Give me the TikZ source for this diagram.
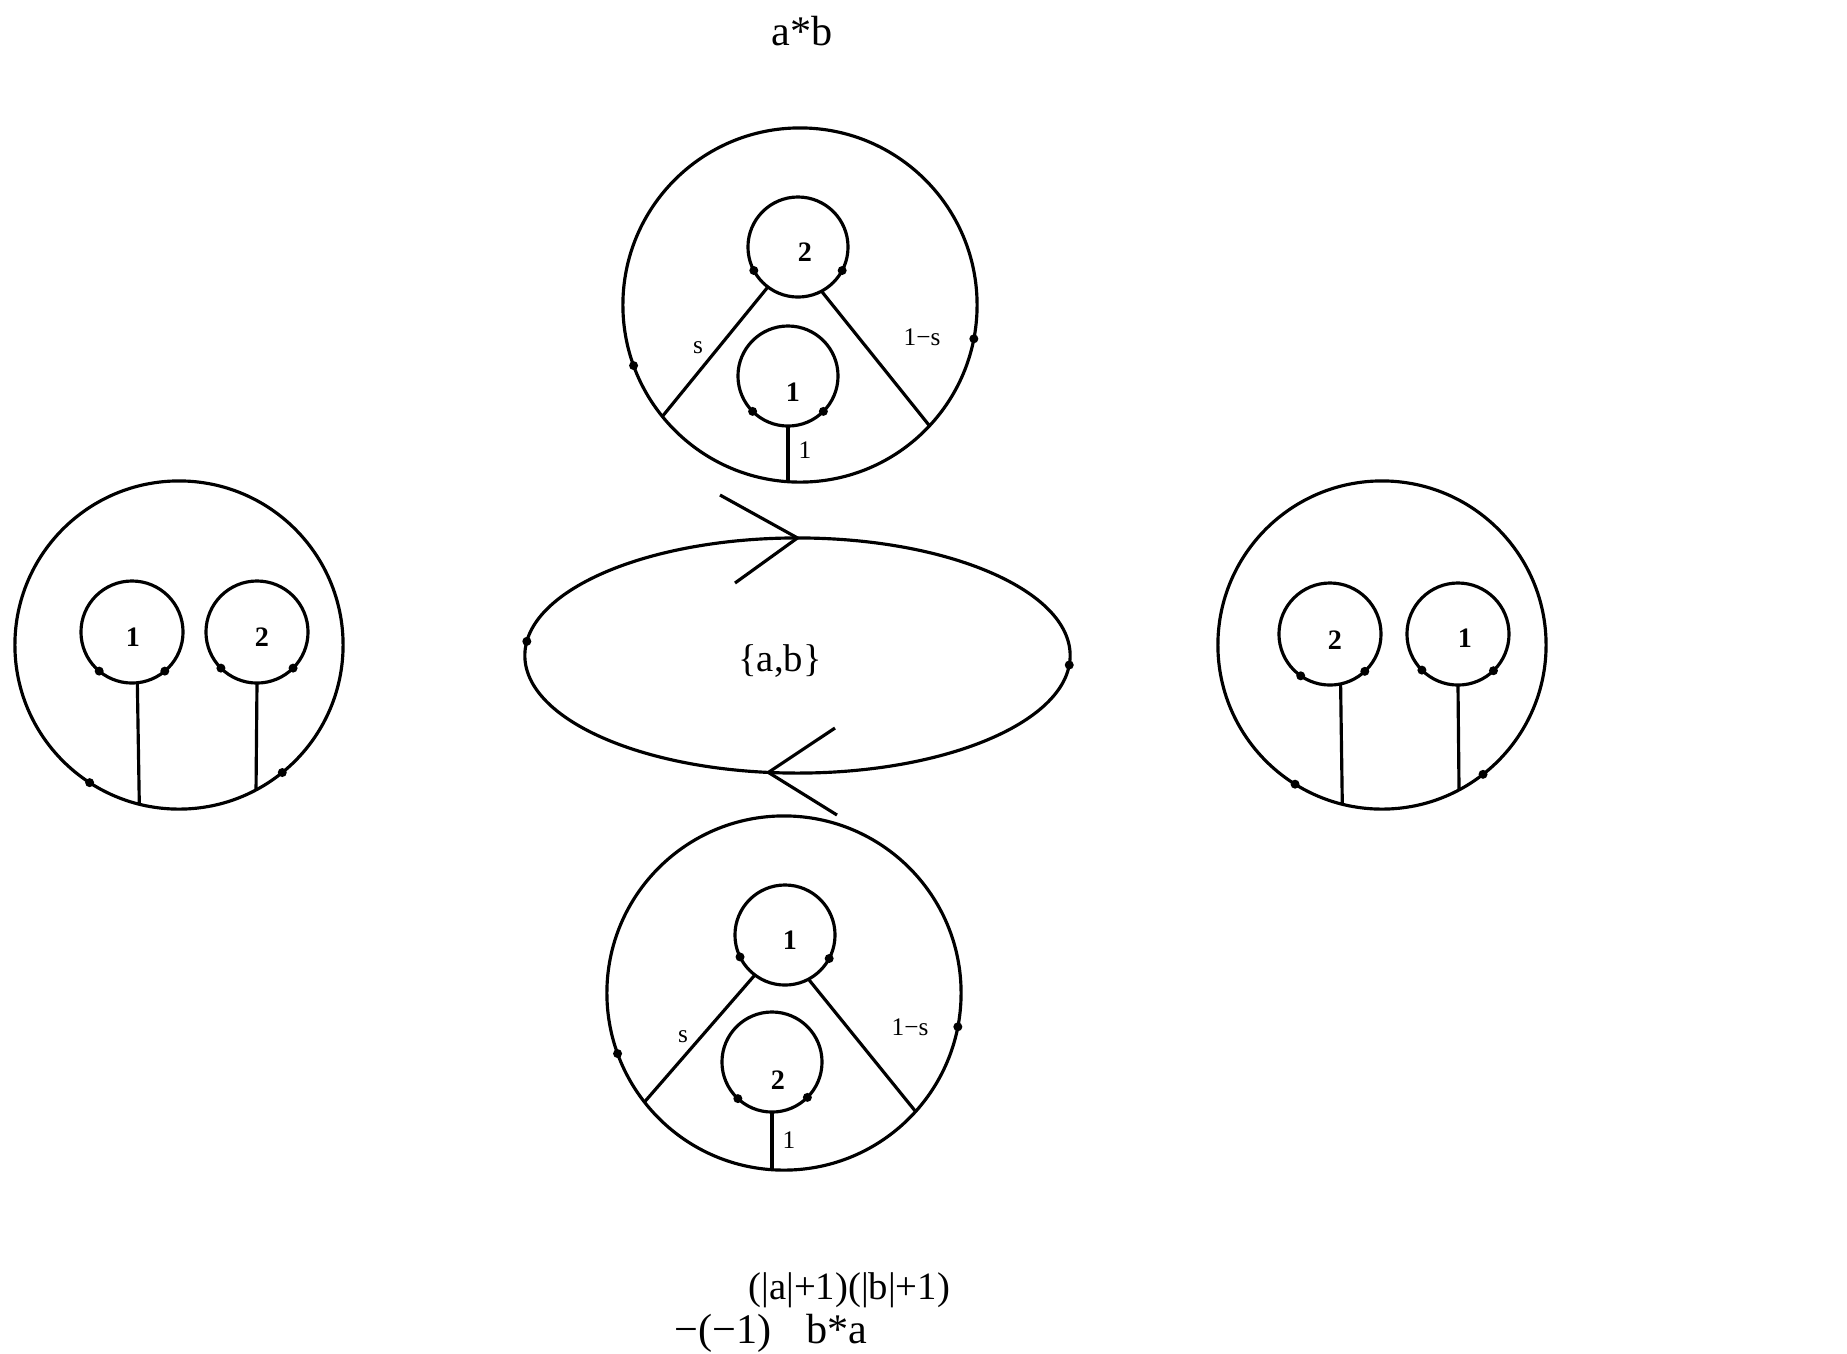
\documentclass[tikz,border=0pt]{standalone}
\usepackage{fontspec}
\setmainfont{Liberation Serif}
\usetikzlibrary{shapes.geometric}
\begin{document}
\begin{tikzpicture}[x=0.01cm,y=-0.01cm,line width=0.9pt,
  bigc/.style={circle,draw,minimum size=3.54cm,inner sep=0pt,outer sep=0pt},
  midc/.style={circle,draw,minimum size=3.28cm,inner sep=0pt,outer sep=0pt},
  smallc/.style={circle,draw,minimum size=1.0cm,inner sep=0pt,outer sep=0pt},
  smallcc/.style={circle,draw,minimum size=1.02cm,inner sep=0pt,outer sep=0pt},
  num/.style={font=\fontsize{8}{9}\selectfont\bfseries,inner sep=0pt},
  tinylab/.style={font=\fontsize{7.2}{8}\selectfont,inner sep=0pt},
  bigtxt/.style={font=\fontsize{12}{14}\selectfont,inner sep=0pt},
  midtxt/.style={font=\fontsize{11}{13}\selectfont,inner sep=0pt},
  dotr/.style={radius=0.045cm}
]
\useasboundingbox (0,0) rectangle (1847,1353);

% ---------- title ----------
\node[bigtxt,anchor=base] (ttl) at (802,45) {a*b};

% ---------- top diagram ----------
\node[bigc] (T) at (800,305) {};
\node[smallc] (Ta) at (798,247) {};
\node[smallc] (Tb) at (788,376) {};
\node[num] (Tan) at (805,252) {2};
\node[num] (Tbn) at (793,392) {1};
\draw (Ta.-127) -- (T.-141);
\draw (Ta.-62) -- (T.-43);
\draw (Tb.south) -- (Tb.south |- T.south);
\node[tinylab] (Ts) at (698,348) {s};
\node[tinylab] (Tr) at (922,337) {1−s};
\node[tinylab] (Tl) at (805,450) {1};
\fill[dotr] (Ta.-152) circle;
\fill[dotr] (Ta.-28) circle;
\fill[dotr] (Tb.-135) circle;
\fill[dotr] (Tb.-45) circle;
\fill[dotr] (T.-160) circle;
\fill[dotr] (T.-11.6) circle;

% ---------- central ellipse ----------
\node[ellipse,draw,minimum width=5.45cm,minimum height=2.35cm,inner sep=0pt,outer sep=0pt] (E) at (797.5,655.5) {};
\node[midtxt] (ab) at (780,661) {\{a,b\}};
\coordinate (u1) at (720,495);
\coordinate (u2) at (735,583);
\draw (u1) -- (E.north) -- (u2);
\coordinate (l1) at (835,728);
\coordinate (l2) at (837,815);
\draw (l1) -- (E.-104.6) -- (l2);
\fill[dotr] (E.177) circle;
\fill[dotr] (E.-2) circle;

% ---------- left diagram ----------
\node[midc] (L) at (179,645) {};
\node[smallcc] (La) at (132,632) {};
\node[smallcc] (Lb) at (257,632) {};
\node[num] (Lan) at (133,637) {1};
\node[num] (Lbn) at (262,637) {2};
\draw (La.-84) -- (L.-104.8);
\draw (Lb.south) -- (L.-62);
\fill[dotr] (La.-130) circle;
\fill[dotr] (La.-50) circle;
\fill[dotr] (Lb.-135) circle;
\fill[dotr] (Lb.-45) circle;
\fill[dotr] (L.-123) circle;
\fill[dotr] (L.-51.5) circle;

% ---------- right diagram ----------
\node[midc] (R) at (1382,645) {};
\node[smallcc] (Ra) at (1330,634) {};
\node[smallcc] (Rb) at (1458,634) {};
\node[num] (Ran) at (1335,640) {2};
\node[num] (Rbn) at (1465,638) {1};
\draw (Ra.-78.7) -- (R.-104.8);
\draw (Rb.south) -- (R.-62);
\fill[dotr] (Ra.-125) circle;
\fill[dotr] (Ra.-47) circle;
\fill[dotr] (Rb.-135) circle;
\fill[dotr] (Rb.-46) circle;
\fill[dotr] (R.-122) circle;
\fill[dotr] (R.-52) circle;

% ---------- bottom diagram ----------
\node[bigc] (B) at (784,993) {};
\node[smallc] (Ba) at (785,935) {};
\node[smallc] (Bb) at (772,1062) {};
\node[num] (Ban) at (790,940) {1};
\node[num] (Bbn) at (778,1080) {2};
\draw (Ba.-127) -- (B.-142);
\draw (Ba.-62) -- (B.-42);
\draw (Bb.south) -- (Bb.south |- B.south);
\node[tinylab] (Bs) at (683,1037) {s};
\node[tinylab] (Br) at (910,1027) {1−s};
\node[tinylab] (Bl) at (789,1140) {1};
\fill[dotr] (Ba.-154) circle;
\fill[dotr] (Ba.-28) circle;
\fill[dotr] (Bb.-133) circle;
\fill[dotr] (Bb.-45) circle;
\fill[dotr] (B.-160) circle;
\fill[dotr] (B.-11) circle;

% ---------- bottom formula ----------
\node[midtxt,anchor=base west] (ex) at (747,1299) {(|a|+1)(|b|+1)};
\node[bigtxt,anchor=base west] (m1) at (673,1343) {−(−1)};
\node[bigtxt,anchor=base west] (m2) at (805,1343) {b*a};
\end{tikzpicture}
\end{document}
